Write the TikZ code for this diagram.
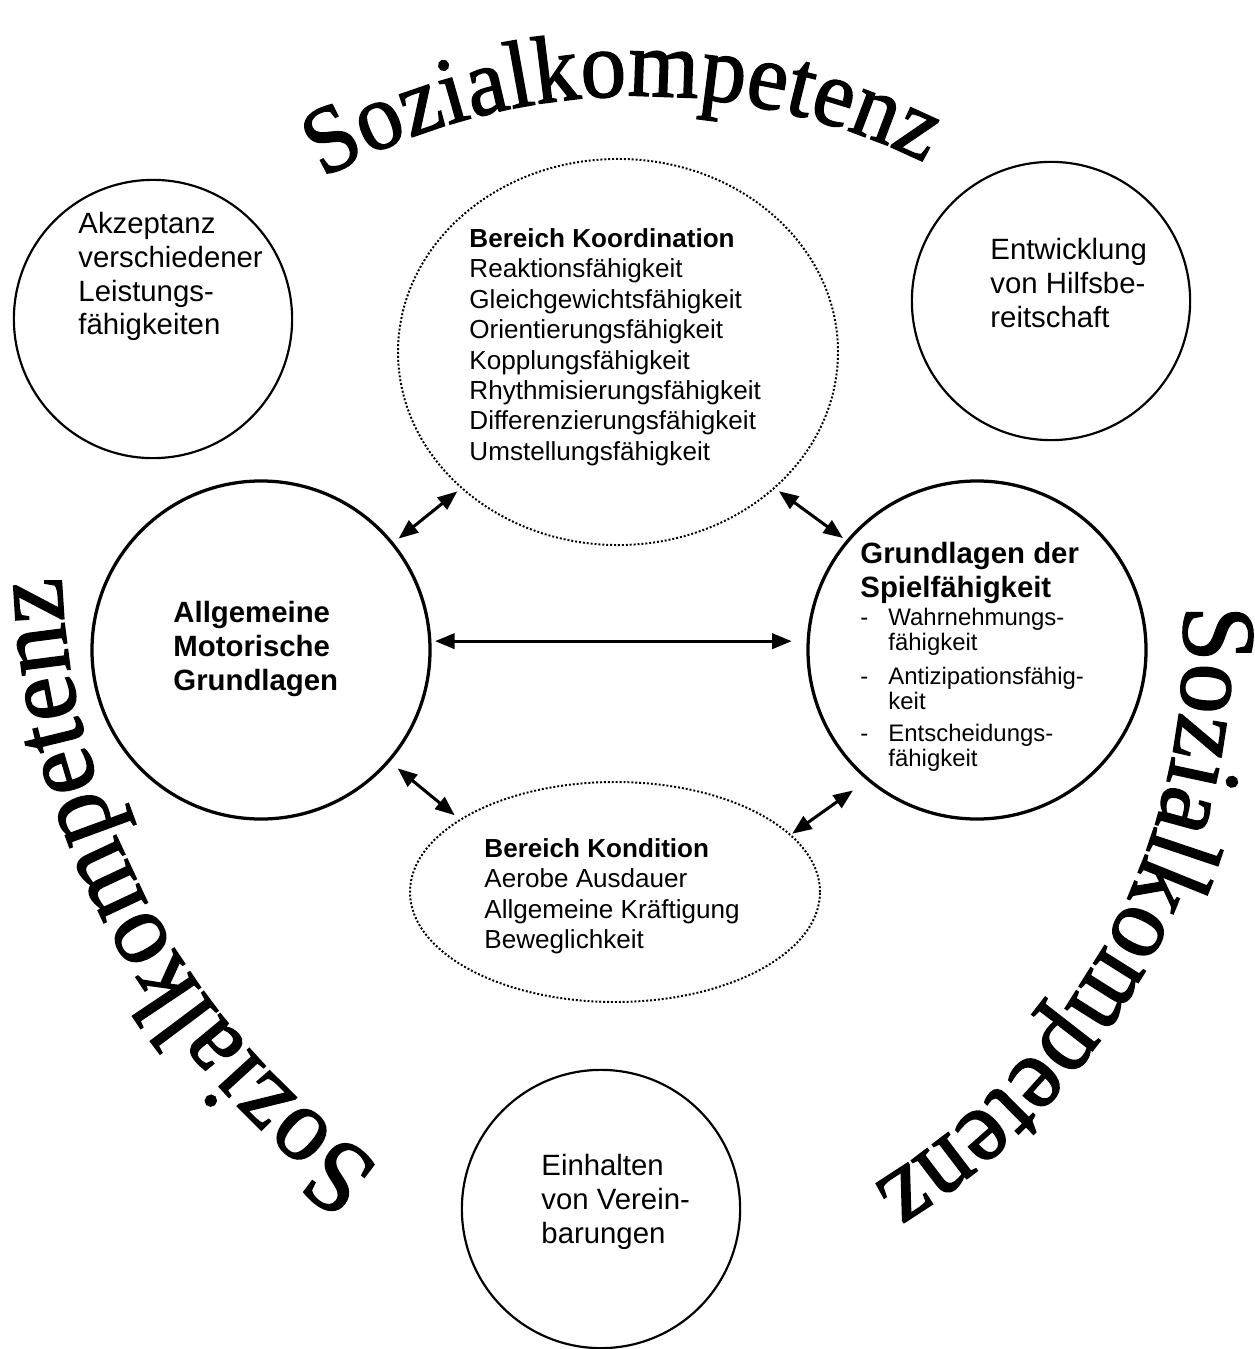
\documentclass[tikz,border=0pt]{standalone}
\usepackage{fontspec}
\setmainfont{Liberation Sans}
\newfontfamily\wordart[FakeStretch=0.96,FakeBold=1.5]{Liberation Serif}
\newfontfamily\wordartoben[FakeStretch=0.95,FakeBold=1.5]{Liberation Serif}
\usetikzlibrary{arrows.meta,decorations.text,shapes.geometric}

\begin{document}
\begin{tikzpicture}[x=0.46pt,y=-0.46pt,
		klein/.style={draw,circle,line width=1pt,minimum size=128pt,inner sep=0pt,outer sep=0pt},
		gross/.style={draw,circle,line width=1.5pt,minimum size=155.5pt,inner sep=0pt,outer sep=0pt},
		bereich/.style={draw,ellipse,line width=0.9pt,dash pattern=on 0.9pt off 0.9pt,inner sep=0pt,outer sep=0pt},
		txt/.style={anchor=north west,align=left,inner sep=0pt,font=\fontsize{13.5}{15.5}\selectfont},
		pfeil/.style={{Triangle[length=9pt,width=7pt]}-{Triangle[length=9pt,width=7pt]},line width=1.4pt}]
	\useasboundingbox (0,0) rectangle (1255,1349);
	\node[klein] (akzeptanz) at (153,319) {};
	\node[klein] (hilfe) at (1051,301) {};
	\node[klein] (vereinbarung) at (601,1209) {};
	\node[gross] (motorik) at (261,650) {};
	\node[gross] (spiel) at (977,650) {};
	\node[bereich,minimum width=202.4pt,minimum height=177.6pt] (koord) at (618,352) {};
	\node[bereich,minimum width=188.6pt,minimum height=101.2pt] (kondi) at (615,892) {};
	\node[txt] (akzeptanz-text) at (78,212) {Akzeptanz\\verschiedener\\Leistungs-\\fähigkeiten};
	\node[txt] (hilfe-text) at (990,238) {Entwicklung\\von Hilfsbe-\\reitschaft};
	\node[txt] (vereinbarung-text) at (541,1154) {Einhalten\\von Verein-\\barungen};
	\node[txt,font=\bfseries\fontsize{13.5}{15.5}\selectfont] (motorik-text) at (173,601) {Allgemeine\\Motorische\\Grundlagen};
	\node[txt,font=\fontsize{12}{14}\selectfont] (koord-text) at (469,228) {\textbf{Bereich Koordination}\\Reaktionsfähigkeit\\Gleichgewichtsfähigkeit\\Orientierungsfähigkeit\\Kopplungsfähigkeit\\Rhythmisierungsfähigkeit\\Differenzierungsfähigkeit\\Umstellungsfähigkeit};
	\node[txt,font=\fontsize{12}{14}\selectfont] (kondi-text) at (484,838) {\textbf{Bereich Kondition}\\Aerobe Ausdauer\\Allgemeine Kräftigung\\Beweglichkeit};
	\node[txt,font=\bfseries\fontsize{13.5}{15.5}\selectfont] (spiel-text) at (860,542) {Grundlagen der\\Spielfähigkeit};
	\node[txt,font=\fontsize{11}{11.5}\selectfont] (spiel-liste) at (860,608) {%
		\begin{tabular}{@{}p{12.9pt}@{}l@{}}
			- & Wahrnehmungs-\\
			& fähigkeit\\[4pt]
			- & Antizipationsfähig-\\
			& keit\\[3pt]
			- & Entscheidungs-\\
			& fähigkeit
		\end{tabular}};
	\draw[pfeil,shorten <=3.7pt,shorten >=2.6pt] (motorik.39) -- (koord.221);
	\draw[pfeil,shorten <=2.6pt,shorten >=2.6pt] (koord.-41) -- (spiel.140);
	\draw[pfeil,shorten <=2.4pt,shorten >=7.6pt] (motorik.3) -- (spiel.177);
	\draw[pfeil,shorten <=5.4pt,shorten >=3.3pt] (motorik.-41) -- (kondi.155);
	\draw[pfeil,shorten <=1pt,shorten >=8.7pt] (kondi.18) -- (spiel.230);
	\path[decorate,decoration={text along path,text align={fit to path},
		text={|\wordartoben\fontsize{44pt}{44pt}\selectfont|Sozialkompetenz}}]
		([shift={(240.75:647)}]639,743) arc[start angle=240.75,end angle=296.25,radius=647];
	\path[decorate,decoration={text along path,text align={fit to path},
		text={|\wordart\fontsize{48pt}{48pt}\selectfont|Sozialkompetenz}}]
		([shift={(125:751)}]812,551) arc[start angle=125,end angle=178,radius=751];
	\path[decorate,decoration={text along path,text align={fit to path},
		text={|\wordart\fontsize{48pt}{48pt}\selectfont|Sozialkompetenz}}]
		([shift={(-2.5:644)}]540,634) arc[start angle=-2.5,end angle=58.5,radius=644];
\end{tikzpicture}
\end{document}
